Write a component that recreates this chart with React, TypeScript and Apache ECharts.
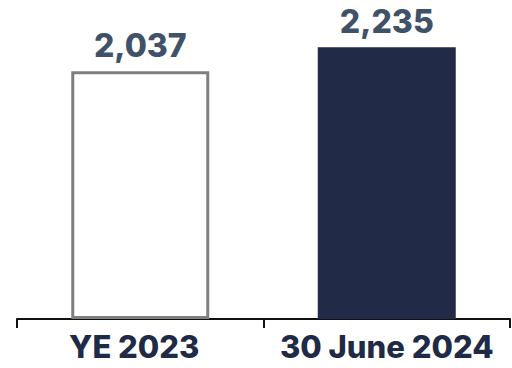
import React, { useEffect, useRef } from "react";
import * as echarts from "echarts";

const categories = ["YE 2023", "30 June 2024"];
const values = [2037, 2235];

export default function App() {
  const ref = useRef<HTMLDivElement>(null);
  useEffect(() => {
    if (!ref.current) return;
    const chart = echarts.init(ref.current, null, { renderer: "svg" });
    const font = "Inter, 'Liberation Sans', Arial, sans-serif";
    chart.setOption({
      animation: false,
      grid: { left: 17, right: 2, top: 15, bottom: 49, containLabel: false },
      xAxis: {
        type: "category",
        data: categories.map((c, i) =>
          i === 0 ? { value: c, textStyle: { padding: [0, 12, 0, 0] } } : { value: c }
        ),
        axisLine: { show: true, lineStyle: { color: "#111111", width: 2 } },
        axisTick: { show: true, interval: 0, alignWithLabel: false, length: 9, lineStyle: { color: "#111111", width: 2 } },
        axisLabel: {
          interval: 0,
          margin: 12,
          color: "#1f2a46",
          fontFamily: font,
          fontWeight: 800,
          fontSize: 31,
        },
      },
      yAxis: {
        type: "value",
        min: 0,
        max: 2500,
        show: false,
        splitLine: { show: false },
      },
      series: [
        {
          type: "bar",
          barWidth: 138,
          data: values.map((v, i) =>
            i === 0
              ? { value: v, itemStyle: { color: "#ffffff", borderColor: "#7f7f7f", borderWidth: 3 } }
              : { value: v, itemStyle: { color: "#212a46" } }
          ),
          label: {
            show: true,
            position: "top",
            distance: 10,
            color: "#3f5268",
            fontFamily: font,
            fontWeight: 800,
            fontSize: 32,
            formatter: (p: any) => Number(p.value).toLocaleString("en-US"),
          },
        },
      ],
    });
    return () => chart.dispose();
  }, []);
  return <div ref={ref} style={{ width: 512, height: 368, position: "absolute", left: 0, top: 0 }} />;
}
